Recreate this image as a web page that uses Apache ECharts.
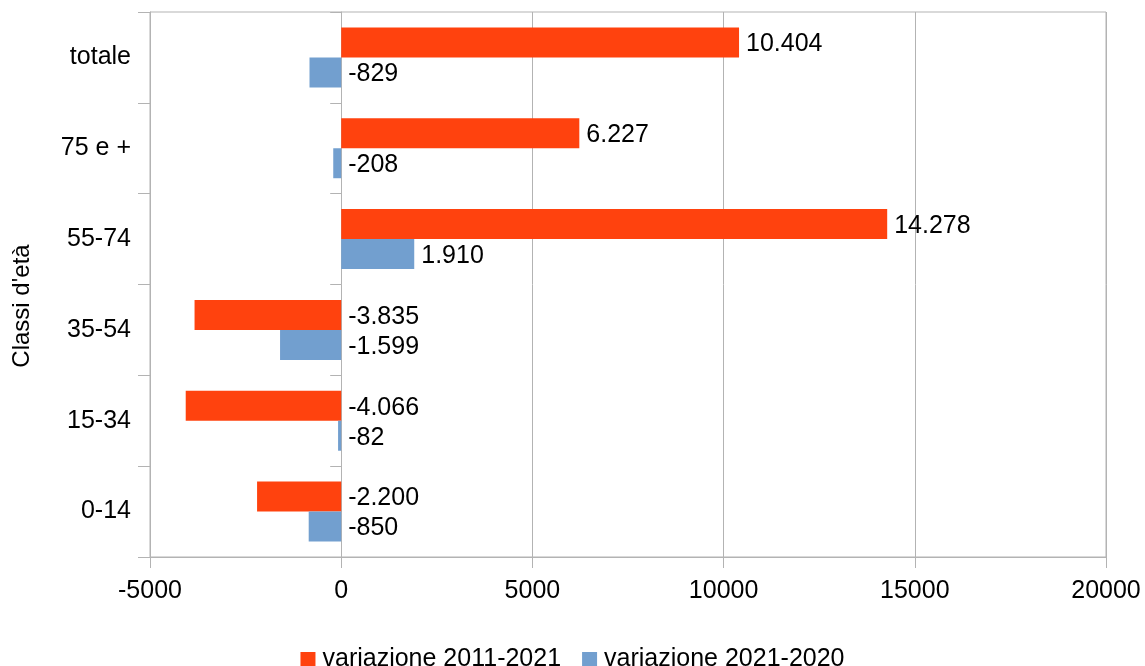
<!DOCTYPE html>
<html>
<head>
<meta charset="utf-8">
<script src="https://cdn.jsdelivr.net/npm/echarts@6/dist/echarts.min.js"></script>
<style>html,body{margin:0;padding:0;background:#fff;}#c{width:1145px;height:666px;}</style>
</head>
<body>
<div id="c"></div>
<script>
const categories = ['0-14', '15-34', '35-54', '55-74', '75 e +', 'totale'];
const seriesNames = ['variazione 2011-2021', 'variazione 2021-2020'];
const var2011_2021 = [-2200, -4066, -3835, 14278, 6227, 10404];
const var2021_2020 = [-850, -82, -1599, 1910, -208, -829];
const xTicks = { min: -5000, max: 20000, interval: 5000 };
const axisTitle = "Classi d'età";

const FONT = 'Liberation Sans, Arial, sans-serif';
const FS = 25;
function fmt(v) {
  const s = Math.abs(v).toString().replace(/\B(?=(\d{3})+(?!\d))/g, '.');
  return (v < 0 ? '-' : '') + s;
}
const labelCfg = {
  show: true, position: 'right', distance: 7, offset: [0, 2],
  color: '#000', fontFamily: FONT, fontSize: FS,
  formatter: p => fmt(p.value)
};
const chart = echarts.init(document.getElementById('c'));
chart.setOption({
  animation: false,
  textStyle: { fontFamily: FONT },
  grid: { left: 150, right: 39, top: 12, bottom: 109, show: true, borderColor: '#b3b3b3', borderWidth: 1 },
  legend: {
    data: seriesNames,
    top: 642, left: 'center',
    itemWidth: 15, itemHeight: 15, itemGap: 21,
    icon: 'rect',
    textStyle: { fontSize: FS, color: '#000', fontFamily: FONT, padding: [0, 0, 0, 2] }
  },
  graphic: [{
    type: 'text',
    x: 22, y: 306, rotation: Math.PI / 2,
    style: { text: axisTitle, font: '24px ' + FONT, fill: '#000', textAlign: 'center', textVerticalAlign: 'middle' }
  }],
  xAxis: {
    type: 'value', min: xTicks.min, max: xTicks.max, interval: xTicks.interval,
    axisLine: { show: true, onZero: false, lineStyle: { color: '#b3b3b3' } },
    axisTick: { show: true, length: 11, lineStyle: { color: '#b3b3b3' } },
    axisLabel: { color: '#000', fontSize: FS, fontFamily: FONT, margin: 22, formatter: v => String(v) },
    splitLine: { show: true, lineStyle: { color: '#b3b3b3' } }
  },
  yAxis: [{
    type: 'category', data: categories,
    axisLine: { show: true, onZero: false, lineStyle: { color: '#b3b3b3' } },
    axisTick: { show: true, length: 12, lineStyle: { color: '#b3b3b3' } },
    axisLabel: { color: '#000', fontSize: FS, fontFamily: FONT, margin: 19, padding: [5, 0, 0, 0] },
    splitLine: { show: false }
  }, {
    type: 'category', data: categories, position: 'left',
    axisLine: { show: true, onZero: true, lineStyle: { color: '#b3b3b3' } },
    axisTick: { show: true, length: 11, lineStyle: { color: '#b3b3b3' } },
    axisLabel: { show: false },
    splitLine: { show: false }
  }],
  series: [{
    name: seriesNames[0], type: 'bar', data: var2011_2021,
    itemStyle: { color: '#ff420e' }, barGap: '0%', barCategoryGap: '34%',
    label: labelCfg
  }, {
    name: seriesNames[1], type: 'bar', data: var2021_2020,
    itemStyle: { color: '#729fcf' }, barGap: '0%', barCategoryGap: '34%',
    label: labelCfg
  }]
});
</script>
</body>
</html>
